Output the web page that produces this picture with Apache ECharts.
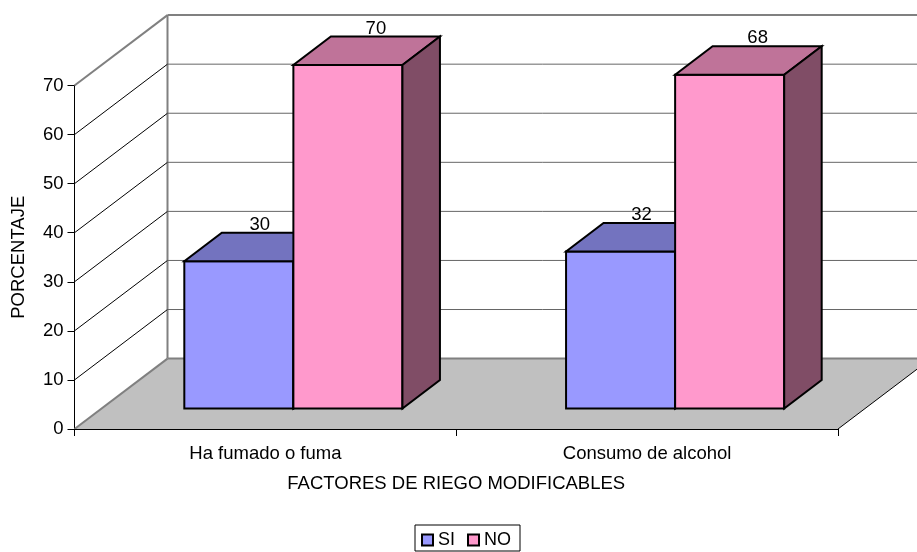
<!DOCTYPE html>
<html><head><meta charset="utf-8">
<style>html,body{margin:0;padding:0;background:#fff}#c{width:917px;height:552px}</style>
<script src="https://cdn.jsdelivr.net/npm/echarts@6/dist/echarts.min.js"></script>
</head><body><div id="c"></div>
<script>
const categories = ['Ha fumado o fuma', 'Consumo de alcohol'];
const siValues = [30, 32];
const noValues = [70, 68];
const yTicks = [0, 10, 20, 30, 40, 50, 60, 70];

const FONT = '"Liberation Sans", Arial, sans-serif';
const FS = 18.5;
const WALL = { dx: 93, dy: -70.4 };
const BAR_FRONT = { dx: 28, dy: -20.5 }, BAR_DEPTH = { dx: 37.5, dy: -28.5 }, BAR_BAND = 0.2857;

function poly(points, fill, stroke, lw) {
  return { type: 'polygon', shape: { points }, style: { fill, stroke, lineWidth: lw, lineJoin: 'miter' } };
}
function seg(a, b, stroke, lw) {
  return { type: 'line', shape: { x1: a[0], y1: a[1], x2: b[0], y2: b[1] }, style: { stroke, lineWidth: lw, fill: null } };
}

function wallItem(params, api) {
  const v = api.value(0), p = api.coord([0, v]);
  const cs = params.coordSys;
  const x0 = cs.x, x1 = cs.x + cs.width;
  const y = p[1];
  const bx = x0 + WALL.dx, by = y + WALL.dy, ex = x1 + WALL.dx;
  const children = [];
  const top = v === yTicks[yTicks.length - 1], base = v === yTicks[0];
  if (base) {
    children.push(poly([[x0, y], [bx, by], [ex, by], [x1, y]], '#C0C0C0', null, 0));
    children.push(seg([x0, y], [bx, by], '#808080', 2));
    children.push(seg([bx, by], [ex, by], '#808080', 2));
    children.push(seg([x1, y], [ex, by], '#000', 1));
    const ty = api.coord([0, yTicks[yTicks.length - 1]])[1] + WALL.dy;
    children.push(seg([bx, by], [bx, ty], '#808080', 2));
  } else if (top) {
    children.push(seg([x0, y], [bx, by], '#808080', 2));
    children.push(seg([bx, by], [ex, by], '#808080', 2));
  } else {
    children.push(seg([x0, y], [bx, by], '#000', 1));
    children.push(seg([bx, by], [ex, by], '#666', 1));
  }
  return { type: 'group', children };
}

function barItem(offsetBand, front, topC, sideC, labelShift) {
  return function (params, api) {
    const cat = api.value(0), val = api.value(1);
    const band = api.size([1, 0])[0];
    const c = api.coord([cat, val]);
    const c0 = api.coord([cat, 0]);
    const w = band * BAR_BAND;
    const xl = c[0] + BAR_FRONT.dx + offsetBand * w, xr = xl + w;
    const yt = c[1] + BAR_FRONT.dy, yb = c0[1] + BAR_FRONT.dy;
    const d = BAR_DEPTH;
    return {
      type: 'group',
      children: [
        poly([[xl, yb], [xr, yb], [xr, yt], [xl, yt]], front, '#000', 2),
        poly([[xl, yt], [xr, yt], [xr + d.dx, yt + d.dy], [xl + d.dx, yt + d.dy]], topC, '#000', 2),
        poly([[xr, yt], [xr + d.dx, yt + d.dy], [xr + d.dx, yb + d.dy], [xr, yb]], sideC, '#000', 2),
        { type: 'text', style: { text: String(val), x: (xl + xr) / 2 + labelShift, y: yt + d.dy - 8,
          fill: '#000', font: FS + 'px ' + FONT, align: 'center', verticalAlign: 'middle' } }
      ]
    };
  };
}

const chart = echarts.init(document.getElementById('c'), null, { renderer: 'canvas' });
chart.setOption({
  animation: false,
  backgroundColor: '#fff',
  textStyle: { fontFamily: FONT },
  grid: { left: 74.5, right: 79, top: 85.5, bottom: 123, containLabel: false, outerBoundsMode: 'none' },
  legend: {
    data: ['SI', 'NO'], left: 415, top: 525, orient: 'horizontal', icon: 'rect',
    backgroundColor: '#fff', borderColor: '#000', borderWidth: 1, padding: [6, 9, 2, 6],
    itemWidth: 11, itemHeight: 11, itemGap: 12,
    textStyle: { color: '#000', fontSize: 18, fontFamily: FONT }
  },
  xAxis: {
    type: 'category', data: categories, boundaryGap: true,
    name: 'FACTORES DE RIEGO MODIFICABLES', nameLocation: 'middle', nameGap: 45,
    nameTextStyle: { color: '#000', fontSize: FS, fontFamily: FONT },
    axisLine: { lineStyle: { color: '#000', width: 1 } },
    axisTick: { show: true, alignWithLabel: false, length: 7, lineStyle: { color: '#000' } },
    axisLabel: { color: '#000', fontSize: FS, fontFamily: FONT, margin: 15 },
    splitLine: { show: false }, z: 5
  },
  yAxis: {
    type: 'value', min: 0, max: 70, interval: 10,
    name: 'PORCENTAJE', nameLocation: 'middle', nameGap: 46, nameRotate: 90,
    nameTextStyle: { color: '#000', fontSize: FS, fontFamily: FONT },
    axisLine: { show: true, lineStyle: { color: '#000', width: 1 } },
    axisTick: { show: true, length: 7, lineStyle: { color: '#000' } },
    axisLabel: { color: '#000', fontSize: FS, fontFamily: FONT, margin: 11 },
    splitLine: { show: false }
  },
  series: [
    { name: 'wall', type: 'custom', coordinateSystem: 'cartesian2d', clip: false, silent: true,
      data: yTicks.map(v => [v]), renderItem: wallItem, encode: { y: 0 }, z: 1 },
    { name: 'SI', type: 'custom', coordinateSystem: 'cartesian2d', clip: false,
      itemStyle: { color: '#9999FF', borderColor: '#000', borderWidth: 2 },
      data: categories.map((c, i) => [i, siValues[i]]), encode: { x: 0, y: 1 },
      renderItem: barItem(-1, '#9999FF', '#7373BF', '#5C5C99', 21), z: 3 },
    { name: 'NO', type: 'custom', coordinateSystem: 'cartesian2d', clip: false,
      itemStyle: { color: '#FF99CC', borderColor: '#000', borderWidth: 2 },
      data: categories.map((c, i) => [i, noValues[i]]), encode: { x: 0, y: 1 },
      renderItem: barItem(0, '#FF99CC', '#BF7399', '#804D66', 28), z: 4 }
  ]
});
</script></body></html>
